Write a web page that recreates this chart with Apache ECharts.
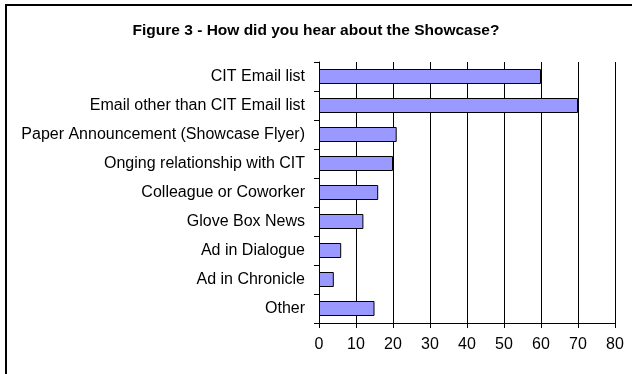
<!DOCTYPE html>
<html>
<head>
<meta charset="utf-8">
<script src="https://cdn.jsdelivr.net/npm/echarts@6/dist/echarts.min.js"></script>
<style>html,body{margin:0;padding:0;background:#fff}#c{width:632px;height:374px}</style>
</head>
<body>
<div id="c"></div>
<script>
const titleText = 'Figure 3 - How did you hear about the Showcase?';
const categories = [
  'CIT Email list',
  'Email other than CIT Email list',
  'Paper Announcement (Showcase Flyer)',
  'Onging relationship with CIT',
  'Colleague or Coworker',
  'Glove Box News',
  'Ad in Dialogue',
  'Ad in Chronicle',
  'Other'
];
const values = [60, 70, 21, 20, 16, 12, 6, 4, 15];
const xTicks = [0, 10, 20, 30, 40, 50, 60, 70, 80];

const chart = echarts.init(document.getElementById('c'), null, {renderer: 'canvas'});
const font = 'Liberation Sans, Arial, sans-serif';
chart.setOption({
  animation: false,
  backgroundColor: '#fff',
  title: {
    text: titleText,
    left: 'center',
    top: 18,
    textStyle: {fontFamily: font, fontSize: 15.5, fontWeight: 'bold', color: '#000'}
  },
  graphic: [{
    type: 'rect',
    shape: {x: 6, y: 5, width: 700, height: 500},
    style: {fill: 'none', stroke: '#000', lineWidth: 2},
    silent: true
  }],
  grid: {left: 319, right: 17, top: 62, bottom: 51, containLabel: false},
  xAxis: {
    type: 'value',
    min: xTicks[0],
    max: xTicks[xTicks.length - 1],
    interval: 10,
    axisLine: {show: true, lineStyle: {color: '#000', width: 1}},
    axisTick: {show: true, length: 5, lineStyle: {color: '#000'}},
    axisLabel: {fontFamily: font, fontSize: 16, color: '#000', margin: 14},
    splitLine: {show: true, lineStyle: {color: '#000', width: 1}}
  },
  yAxis: {
    type: 'category',
    data: categories,
    inverse: true,
    axisLine: {show: true, lineStyle: {color: '#000', width: 1}},
    axisTick: {show: true, length: 5, lineStyle: {color: '#000'}},
    axisLabel: {fontFamily: font, fontSize: 16, color: '#000', margin: 14}
  },
  series: [{
    type: 'bar',
    data: values,
    barWidth: 15,
    itemStyle: {color: '#9999FF', borderColor: '#000', borderWidth: 1}
  }]
});
</script>
</body>
</html>
